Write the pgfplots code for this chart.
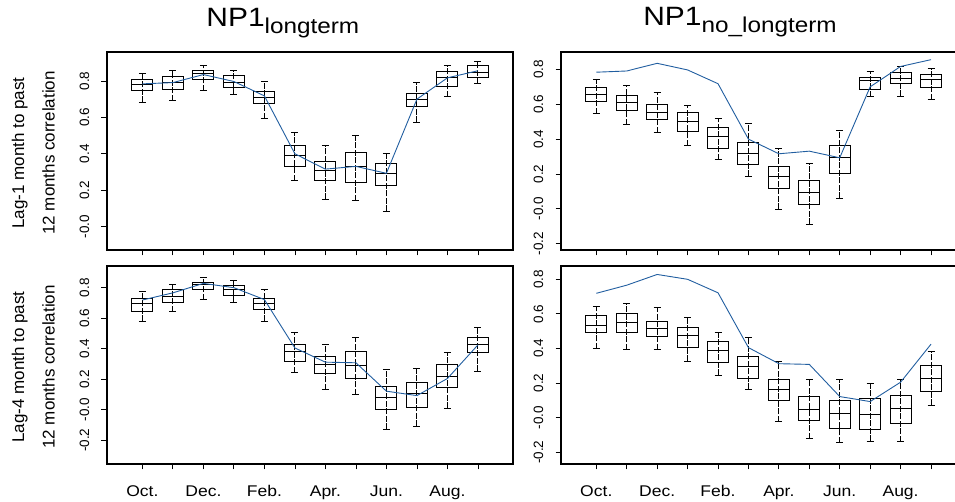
\documentclass[border=0pt]{standalone}
\usepackage{fontspec}
\setmainfont{Liberation Sans}
\newfontfamily\widefont[FakeStretch=1.13]{Liberation Sans}
\usepackage{pgfplots}
\usepackage{pgfplotstable}
\usepgfplotslibrary{statistics}
\pgfplotsset{compat=1.18}
\definecolor{lineblue}{RGB}{33,94,160}

% columns: lower whisker, lower quartile, median, upper quartile, upper whisker
\pgfplotstableread{
lw lq med uq uw
0.683 0.745 0.780 0.806 0.842
0.692 0.755 0.793 0.824 0.857
0.745 0.810 0.839 0.857 0.883
0.727 0.762 0.793 0.828 0.857
0.593 0.674 0.711 0.744 0.799
0.253 0.333 0.392 0.445 0.516
0.150 0.255 0.311 0.359 0.443
0.143 0.240 0.330 0.407 0.500
0.084 0.225 0.291 0.348 0.403
0.573 0.661 0.700 0.731 0.793
0.712 0.771 0.819 0.852 0.886
0.788 0.821 0.846 0.883 0.907
}\boxTL
\pgfplotstableread{
lw lq med uq uw
0.546 0.615 0.658 0.696 0.742
0.483 0.562 0.610 0.652 0.708
0.437 0.512 0.550 0.598 0.667
0.363 0.444 0.504 0.552 0.592
0.281 0.344 0.415 0.467 0.517
0.188 0.256 0.319 0.379 0.488
-0.002 0.119 0.183 0.242 0.344
-0.088 0.027 0.092 0.165 0.258
0.062 0.200 0.294 0.363 0.448
0.644 0.685 0.737 0.756 0.787
0.646 0.717 0.746 0.783 0.815
0.627 0.696 0.742 0.769 0.806
}\boxTR
\pgfplotstableread{
lw lq med uq uw
0.580 0.645 0.695 0.728 0.778
0.641 0.702 0.743 0.787 0.824
0.722 0.787 0.822 0.837 0.865
0.704 0.748 0.787 0.817 0.846
0.580 0.656 0.695 0.728 0.787
0.244 0.316 0.384 0.427 0.508
0.131 0.240 0.296 0.347 0.429
0.100 0.203 0.290 0.379 0.473
-0.126 0.002 0.083 0.150 0.262
-0.107 0.013 0.107 0.177 0.272
0.011 0.148 0.220 0.294 0.377
0.253 0.375 0.429 0.473 0.540
}\boxBL
\pgfplotstableread{
lw lq med uq uw
0.398 0.494 0.531 0.590 0.644
0.394 0.490 0.552 0.602 0.660
0.394 0.467 0.513 0.558 0.635
0.325 0.406 0.475 0.521 0.577
0.246 0.319 0.390 0.440 0.490
0.163 0.229 0.294 0.352 0.463
-0.025 0.102 0.163 0.221 0.323
-0.121 -0.019 0.050 0.123 0.221
-0.146 -0.062 0.025 0.100 0.221
-0.137 -0.067 0.021 0.110 0.200
-0.138 -0.033 0.054 0.129 0.221
0.071 0.152 0.229 0.302 0.385
}\boxBR

\tikzset{bxline/.style={black, line width=1pt, solid}}
\pgfplotsset{
  bx/.style={bxline,
    boxplot/draw direction=y,
    boxplot/box extend=0.69, boxplot/whisker extend=0.23,
    boxplot/draw/lower whisker/.code={%
      \draw[bxline, dash pattern=on 6pt off 1.5pt]
        (boxplot box cs:\pgfplotsboxplotvalue{lower whisker},0.5) --
        (boxplot box cs:\pgfplotsboxplotvalue{upper whisker},0.5);
      \draw[bxline]
        (boxplot whisker cs:\pgfplotsboxplotvalue{lower whisker},0) --
        (boxplot whisker cs:\pgfplotsboxplotvalue{lower whisker},1);
    },
    boxplot/draw/upper whisker/.code={%
      \draw[bxline]
        (boxplot whisker cs:\pgfplotsboxplotvalue{upper whisker},0) --
        (boxplot whisker cs:\pgfplotsboxplotvalue{upper whisker},1);
    },
  },
  panel/.style={
    scale only axis, height=198pt,
    xmin=-0.16, xmax=13.15,
    axis line style={black, line width=1.3pt},
    tick align=outside, major tick length=5.5pt,
    tick style={black, line width=0.8pt},
    xtick pos=bottom, ytick pos=left,
    xtick={1,...,12},
    ytick={-0.2,0,0.2,0.4,0.6,0.8},
    yticklabels={-0.2,-0.0,0.2,0.4,0.6,0.8},
    yticklabel style={rotate=90, anchor=south, inner sep=0pt, yshift=12pt,
      font=\fontsize{13.5}{13.5}\selectfont},
    xticklabel style={font=\widefont\fontsize{15.5}{15.5}\selectfont, inner sep=0pt,
      anchor=base, yshift=-27.5pt},
    title style={anchor=base, inner sep=0pt, font=\widefont\fontsize{26.5}{26.5}\selectfont},
    ylabel style={at={(axis description cs:-0.235,0.49)}, anchor=north,
      rotate=0, align=center, inner sep=0pt, font=\fontsize{17}{30.5}\selectfont},
  },
  blueline/.style={lineblue, line width=0.9pt, mark=none},
}

\newcommand{\boxes}[1]{%
  \pgfplotsinvokeforeach{0,...,11}{%
    \pgfplotstablegetelem{##1}{lw}\of#1\let\vlw\pgfplotsretval
    \pgfplotstablegetelem{##1}{lq}\of#1\let\vlq\pgfplotsretval
    \pgfplotstablegetelem{##1}{med}\of#1\let\vmed\pgfplotsretval
    \pgfplotstablegetelem{##1}{uq}\of#1\let\vuq\pgfplotsretval
    \pgfplotstablegetelem{##1}{uw}\of#1\let\vuw\pgfplotsretval
    \edef\doplot{\noexpand\addplot[bx, boxplot prepared={draw position=##1+1,
      lower whisker=\vlw, lower quartile=\vlq, median=\vmed,
      upper quartile=\vuq, upper whisker=\vuw}] coordinates {};}%
    \doplot
  }%
}

\begin{document}
\begin{tikzpicture}
\path[use as bounding box] (0pt,0pt) rectangle (955pt,502pt);

% top left
\begin{axis}[panel, at={(107pt,252pt)}, anchor=south west, width=406pt,
  ymin=-0.128, ymax=0.959,
  ytick={0,0.2,0.4,0.6,0.8}, yticklabels={-0.0,0.2,0.4,0.6,0.8},
  xticklabels={},
  title={NP1\raisebox{-7pt}{\fontsize{21.5}{21.5}\selectfont longterm}},
  title style={at={(axis description cs:0.433,1)}, yshift=19pt},
  ylabel={Lag-1 month to past\\12 months correlation}]
\boxes{\boxTL}
\addplot[blueline] coordinates {(1,0.784) (2,0.791) (3,0.835) (4,0.797) (5,0.718) (6,0.400)
  (7,0.316) (8,0.331) (9,0.293) (10,0.700) (11,0.817) (12,0.856)};
\end{axis}

% top right
\begin{axis}[panel, at={(561pt,252pt)}, anchor=south west, width=405pt,
  ymin=-0.236, ymax=0.9,
  xticklabels={},
  title={NP1\raisebox{-7pt}{\fontsize{21.5}{21.5}\selectfont no\_longterm}},
  title style={at={(axis description cs:0.442,1)}, yshift=20pt}]
\boxes{\boxTR}
\addplot[blueline] coordinates {(1,0.784) (2,0.791) (3,0.835) (4,0.797) (5,0.718) (6,0.400)
  (7,0.316) (8,0.331) (9,0.293) (10,0.700) (11,0.817) (12,0.856)};
\end{axis}

% bottom left
\begin{axis}[panel, at={(107pt,38pt)}, anchor=south west, width=406pt,
  ymin=-0.355, ymax=0.942,
  xticklabels={Oct.,,Dec.,,Feb.,,Apr.,,Jun.,,Aug.,},
  ylabel={Lag-4 month to past\\12 months correlation}]
\boxes{\boxBL}
\addplot[blueline] coordinates {(1,0.719) (2,0.766) (3,0.828) (4,0.800) (5,0.722) (6,0.405)
  (7,0.312) (8,0.308) (9,0.122) (10,0.093) (11,0.205) (12,0.425)};
\end{axis}

% bottom right
\begin{axis}[panel, at={(561pt,38pt)}, anchor=south west, width=405pt,
  ymin=-0.268, ymax=0.877,
  xticklabels={Oct.,,Dec.,,Feb.,,Apr.,,Jun.,,Aug.,}]
\boxes{\boxBR}
\addplot[blueline] coordinates {(1,0.719) (2,0.766) (3,0.828) (4,0.800) (5,0.722) (6,0.405)
  (7,0.312) (8,0.308) (9,0.122) (10,0.093) (11,0.205) (12,0.425)};
\end{axis}
\end{tikzpicture}
\end{document}
